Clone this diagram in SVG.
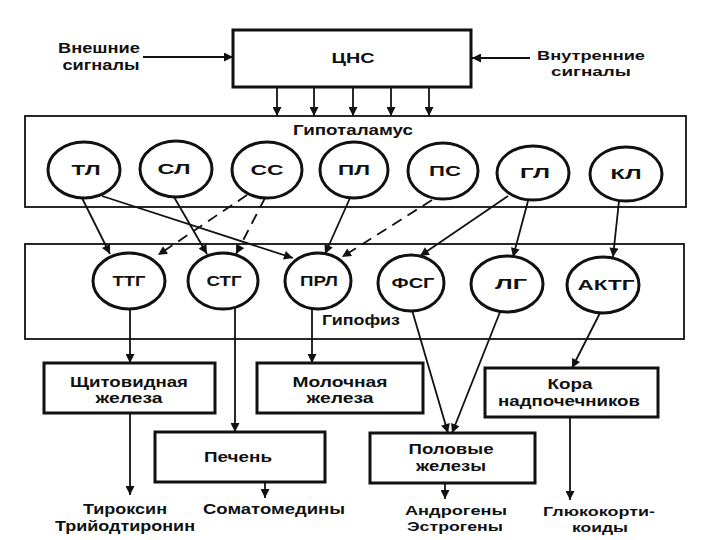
<svg xmlns="http://www.w3.org/2000/svg" width="720" height="540" viewBox="0 0 720 540">
<style>
text{font-family:"Liberation Sans",Arial,sans-serif;font-weight:bold;font-size:14px;fill:#111;text-anchor:middle}
.sm{font-size:13px}
.box{fill:#fff;stroke:#111;stroke-width:3}
.area{fill:none;stroke:#111;stroke-width:1.8}
.node{fill:#fff;stroke:#111;stroke-width:3}
.ln{fill:none;stroke:#111;stroke-width:1.8;marker-end:url(#ah)}
.dash{stroke-dasharray:11 7}
</style>
<defs>
<marker id="ah" viewBox="0 0 10 10" refX="10" refY="5" markerWidth="11" markerHeight="9" markerUnits="userSpaceOnUse" orient="auto">
<path d="M0,0 L10,5 L0,10 z" fill="#111"/>
</marker>
</defs>
<rect width="720" height="540" fill="#fff"/>

<g id="hypothalamus">
<rect class="area" x="25" y="116" width="661" height="91"/>
<text x="353" y="135" textLength="120" lengthAdjust="spacingAndGlyphs">Гипоталамус</text>
</g>
<g id="pituitary">
<rect class="area" x="25" y="244" width="659" height="95"/>
<text x="361" y="325" textLength="78" lengthAdjust="spacingAndGlyphs">Гипофиз</text>
</g>

<g id="connectors">
<line class="ln" x1="143" y1="57" x2="233" y2="57"/>
<line class="ln" x1="530" y1="58" x2="472" y2="58"/>
<line class="ln" x1="277" y1="87" x2="277" y2="116"/>
<line class="ln" x1="314" y1="87" x2="314" y2="116"/>
<line class="ln" x1="353" y1="87" x2="353" y2="116"/>
<line class="ln" x1="391" y1="87" x2="391" y2="116"/>
<line class="ln" x1="429" y1="87" x2="429" y2="116"/>
<line class="ln" x1="82" y1="198" x2="110" y2="254"/>
<line class="ln" x1="102" y1="196" x2="293" y2="258"/>
<line class="ln" x1="174" y1="197" x2="207" y2="254"/>
<line class="ln dash" x1="247" y1="195" x2="158" y2="255"/>
<line class="ln dash" x1="265" y1="198" x2="236" y2="254"/>
<line class="ln" x1="350" y1="198" x2="325" y2="254"/>
<line class="ln dash" x1="432" y1="200" x2="342" y2="257"/>
<line class="ln" x1="508" y1="196" x2="420" y2="256"/>
<line class="ln" x1="528" y1="201" x2="513" y2="257"/>
<line class="ln" x1="619" y1="201" x2="613" y2="257"/>
<line class="ln" x1="130" y1="309" x2="130" y2="363"/>
<line class="ln" x1="235" y1="306" x2="235" y2="432"/>
<line class="ln" x1="312" y1="309" x2="312" y2="363"/>
<line class="ln" x1="412" y1="310" x2="448" y2="433"/>
<line class="ln" x1="500" y1="312" x2="452" y2="433"/>
<line class="ln" x1="600" y1="313" x2="572" y2="368"/>
<line class="ln" x1="130" y1="413" x2="130" y2="495"/>
<line class="ln" x1="265" y1="482" x2="265" y2="498"/>
<line class="ln" x1="445" y1="483" x2="445" y2="499"/>
<line class="ln" x1="570" y1="417" x2="570" y2="500"/>
</g>

<g id="cns">
<rect class="box" x="233" y="30" width="238" height="57"/>
<text x="353" y="63" textLength="43" lengthAdjust="spacingAndGlyphs">ЦНС</text>
</g>
<g id="ext-signals">
<text x="99" y="53" textLength="82" lengthAdjust="spacingAndGlyphs">Внешние</text>
<text x="101" y="70" textLength="77" lengthAdjust="spacingAndGlyphs">сигналы</text>
</g>
<g id="int-signals">
<text class="sm" x="591" y="60" textLength="108" lengthAdjust="spacingAndGlyphs">Внутренние</text>
<text class="sm" x="591" y="76" textLength="80" lengthAdjust="spacingAndGlyphs">сигналы</text>
</g>

<g id="TL"><ellipse class="node" cx="84" cy="170" rx="36" ry="28"/><text x="86" y="175" textLength="29" lengthAdjust="spacingAndGlyphs">ТЛ</text></g>
<g id="SL"><ellipse class="node" cx="176" cy="169" rx="36" ry="28"/><text x="174" y="174" textLength="33" lengthAdjust="spacingAndGlyphs">СЛ</text></g>
<g id="SS"><ellipse class="node" cx="267" cy="170" rx="35" ry="28"/><text x="267" y="175" textLength="33" lengthAdjust="spacingAndGlyphs">СС</text></g>
<g id="PL"><ellipse class="node" cx="354" cy="170" rx="34" ry="28"/><text x="354" y="175" textLength="32" lengthAdjust="spacingAndGlyphs">ПЛ</text></g>
<g id="PS"><ellipse class="node" cx="443" cy="171" rx="35" ry="28"/><text x="445" y="176" textLength="32" lengthAdjust="spacingAndGlyphs">ПС</text></g>
<g id="GL"><ellipse class="node" cx="533" cy="173" rx="36" ry="27"/><text x="535" y="178" textLength="30" lengthAdjust="spacingAndGlyphs">ГЛ</text></g>
<g id="KL"><ellipse class="node" cx="626" cy="174" rx="36" ry="27"/><text x="626" y="179" textLength="31" lengthAdjust="spacingAndGlyphs">КЛ</text></g>

<g id="TTG"><ellipse class="node" cx="129" cy="281" rx="36" ry="28"/><text x="129" y="286" textLength="33" lengthAdjust="spacingAndGlyphs">ТТГ</text></g>
<g id="STG"><ellipse class="node" cx="223" cy="281" rx="35" ry="28"/><text x="224" y="286" textLength="35" lengthAdjust="spacingAndGlyphs">СТГ</text></g>
<g id="PRL"><ellipse class="node" cx="318" cy="281" rx="33" ry="28"/><text x="319" y="286" textLength="38" lengthAdjust="spacingAndGlyphs">ПРЛ</text></g>
<g id="FSG"><ellipse class="node" cx="411" cy="283" rx="33" ry="28"/><text x="413" y="288" textLength="43" lengthAdjust="spacingAndGlyphs">ФСГ</text></g>
<g id="LG"><ellipse class="node" cx="507" cy="284" rx="36" ry="28"/><text x="511" y="289" textLength="32" lengthAdjust="spacingAndGlyphs">ЛГ</text></g>
<g id="AKTG"><ellipse class="node" cx="603" cy="285" rx="36" ry="28"/><text x="606" y="290" textLength="57" lengthAdjust="spacingAndGlyphs">АКТГ</text></g>

<g id="thyroid">
<rect class="box" x="44" y="363" width="171" height="50"/>
<text x="129" y="387" textLength="118" lengthAdjust="spacingAndGlyphs">Щитовидная</text>
<text x="129" y="403" textLength="67" lengthAdjust="spacingAndGlyphs">железа</text>
</g>
<g id="mammary">
<rect class="box" x="257" y="363" width="166" height="50"/>
<text x="340" y="387" textLength="95" lengthAdjust="spacingAndGlyphs">Молочная</text>
<text x="340" y="403" textLength="67" lengthAdjust="spacingAndGlyphs">железа</text>
</g>
<g id="liver">
<rect class="box" x="155" y="432" width="170" height="50"/>
<text x="238" y="462" textLength="68" lengthAdjust="spacingAndGlyphs">Печень</text>
</g>
<g id="gonads">
<rect class="box" x="370" y="433" width="165" height="50"/>
<text x="451" y="454" textLength="85" lengthAdjust="spacingAndGlyphs">Половые</text>
<text x="451" y="471" textLength="70" lengthAdjust="spacingAndGlyphs">железы</text>
</g>
<g id="adrenal">
<rect class="box" x="485" y="368" width="173" height="49"/>
<text x="570" y="389" textLength="45" lengthAdjust="spacingAndGlyphs">Кора</text>
<text x="569" y="406" textLength="142" lengthAdjust="spacingAndGlyphs">надпочечников</text>
</g>

<g id="out-thyroid">
<text x="125" y="514" textLength="84" lengthAdjust="spacingAndGlyphs">Тироксин</text>
<text x="125" y="531" textLength="140" lengthAdjust="spacingAndGlyphs">Трийодтиронин</text>
</g>
<g id="out-liver"><text x="274" y="514" textLength="142" lengthAdjust="spacingAndGlyphs">Соматомедины</text></g>
<g id="out-gonads">
<text class="sm" x="456" y="515" textLength="102" lengthAdjust="spacingAndGlyphs">Андрогены</text>
<text class="sm" x="455" y="531" textLength="96" lengthAdjust="spacingAndGlyphs">Эстрогены</text>
</g>
<g id="out-adrenal">
<text class="sm" x="599" y="516" textLength="112" lengthAdjust="spacingAndGlyphs">Глюкокорти-</text>
<text class="sm" x="600" y="532" textLength="56" lengthAdjust="spacingAndGlyphs">коиды</text>
</g>
</svg>
